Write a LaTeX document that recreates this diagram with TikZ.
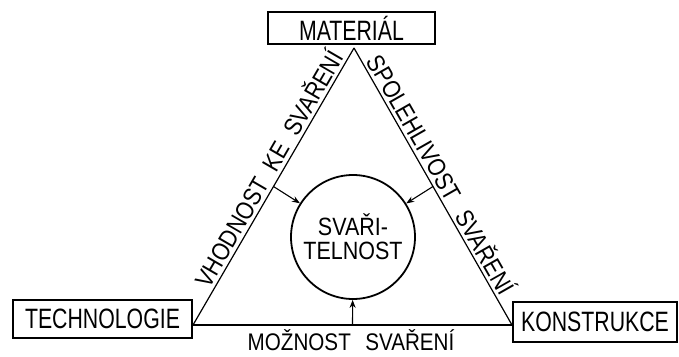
\documentclass[tikz,border=0pt]{standalone}
\usepackage{fontspec}
\newfontfamily\hand[FakeStretch=0.76]{Liberation Sans}
\newfontfamily\handw[FakeStretch=0.86]{Liberation Sans}
\usetikzlibrary{arrows.meta}
\begin{document}
\begin{tikzpicture}[x=1pt,y=-1pt,
  boxnode/.style={draw, line width=1.7pt, inner sep=0pt, font=\hand\fontsize{28}{30}\selectfont},
  edge/.style={line width=1.2pt},
  arr/.style={line width=1.1pt, -{Stealth[length=8pt,width=6pt]}},
  lbl/.style={font=\handw\fontsize{25}{27}\selectfont, sloped, above, inner sep=3pt},
  circ/.style={draw, circle, line width=1.8pt, minimum size=124pt, inner sep=0pt, align=center,
    font=\handw\fontsize{25}{27}\selectfont}]
\useasboundingbox (0,0) rectangle (679,356);
\node[boxnode, minimum width=167pt, minimum height=32pt] (mat) at (351.5,28) {MATERIÁL};
\node[boxnode, minimum width=179pt, minimum height=38pt] (tech) at (102.5,319) {TECHNOLOGIE};
\node[boxnode, minimum width=164pt, minimum height=40pt] (kon) at (595,322) {KONSTRUKCE};
\coordinate (A) at (354,48);
\coordinate (B) at (193,325);
\coordinate (C) at (512,325);
\node[circ] (sv) at (353,237) {SVAŘI-\\[-3pt]TELNOST};
\draw[edge] (B) -- (A) node[lbl, pos=0.54] (l1) {VHODNOST\hspace{0.5em}KE\hspace{0.5em}SVAŘENÍ};
\draw[edge] (A) -- (C) node[lbl, pos=0.48] (l2) {SPOLEHLIVOST\hspace{0.6em}SVAŘENÍ};
\draw[edge] (B) -- (C);
\path (B) -- (A) coordinate[pos=0.5] (la);
\path (A) -- (C) coordinate[pos=0.5] (ra);
\path (B) -- (C) coordinate[pos=0.5] (ba);
\draw[arr] (la) -- (sv);
\draw[arr] (ra) -- (sv);
\draw[arr] (ba) -- (sv);
\node[font=\handw\fontsize{24}{26}\selectfont, anchor=base, inner sep=0pt] (l3) at (351,350) {MOŽNOST\hspace{0.6em}SVAŘENÍ};
\end{tikzpicture}
\end{document}
